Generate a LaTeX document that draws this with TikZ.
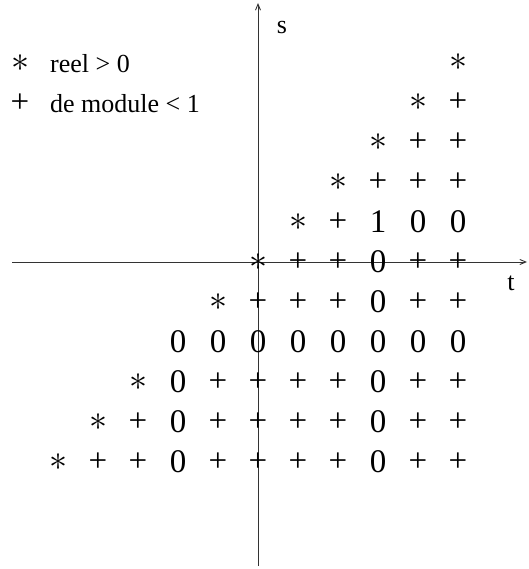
\documentclass[tikz,border=0pt]{standalone}
\usepackage{fontspec}
\setmainfont{Liberation Serif}
\usetikzlibrary{arrows.meta}
\newcommand{\starmark}{\normalsize\scalebox{3.6}{$\ast$}}

\begin{document}
\begin{tikzpicture}[
  x=1pt,y=-1pt,
  cell/.style={inner sep=0pt,font=\fontsize{33}{36}\selectfont},
  legend/.style={inner sep=0pt,anchor=west,font=\fontsize{26}{30}\selectfont},
  axlabel/.style={inner sep=0pt,font=\fontsize{26}{30}\selectfont},
  axis/.style={-{Straight Barb[length=6pt,width=5pt]},line width=0.9pt,draw=black!80}
]
\useasboundingbox (0,0) rectangle (528,569);
% axes
\coordinate (tstart) at (12,262);
\coordinate (tend) at (527,262);
\coordinate (sstart) at (258,566);
\coordinate (send) at (258,3);
\draw[axis] (tstart) -- (tend);
\draw[axis] (sstart) -- (send);
\node[axlabel] (slabel) at (282,28) {s};
\node[axlabel] (tlabel) at (511,283) {t};
% legend
\node[cell] (legstar) at (20,63) {\starmark};
\node[legend] (legreel) at (50,64) {reel > 0};
\node[cell] (legplus) at (20,103) {+};
\node[legend] (legmod) at (50,104) {de module < 1};
% grid of values, row s / column t
\foreach \row/\cells in {
  5/{5/\starmark},
  4/{4/\starmark,5/+},
  3/{3/\starmark,4/+,5/+},
  2/{2/\starmark,3/+,4/+,5/+},
  1/{1/\starmark,2/+,3/1,4/0,5/0},
  0/{0/\starmark,1/+,2/+,3/0,4/+,5/+},
  -1/{-1/\starmark,0/+,1/+,2/+,3/0,4/+,5/+},
  -2/{-2/0,-1/0,0/0,1/0,2/0,3/0,4/0,5/0},
  -3/{-3/\starmark,-2/0,-1/+,0/+,1/+,2/+,3/0,4/+,5/+},
  -4/{-4/\starmark,-3/+,-2/0,-1/+,0/+,1/+,2/+,3/0,4/+,5/+},
  -5/{-5/\starmark,-4/+,-3/+,-2/0,-1/+,0/+,1/+,2/+,3/0,4/+,5/+}}
  \foreach \col/\sym in \cells
    \node[cell] (cell-\row-\col) at (258+40*\col,262-40*\row) {\sym};
\end{tikzpicture}
\end{document}
